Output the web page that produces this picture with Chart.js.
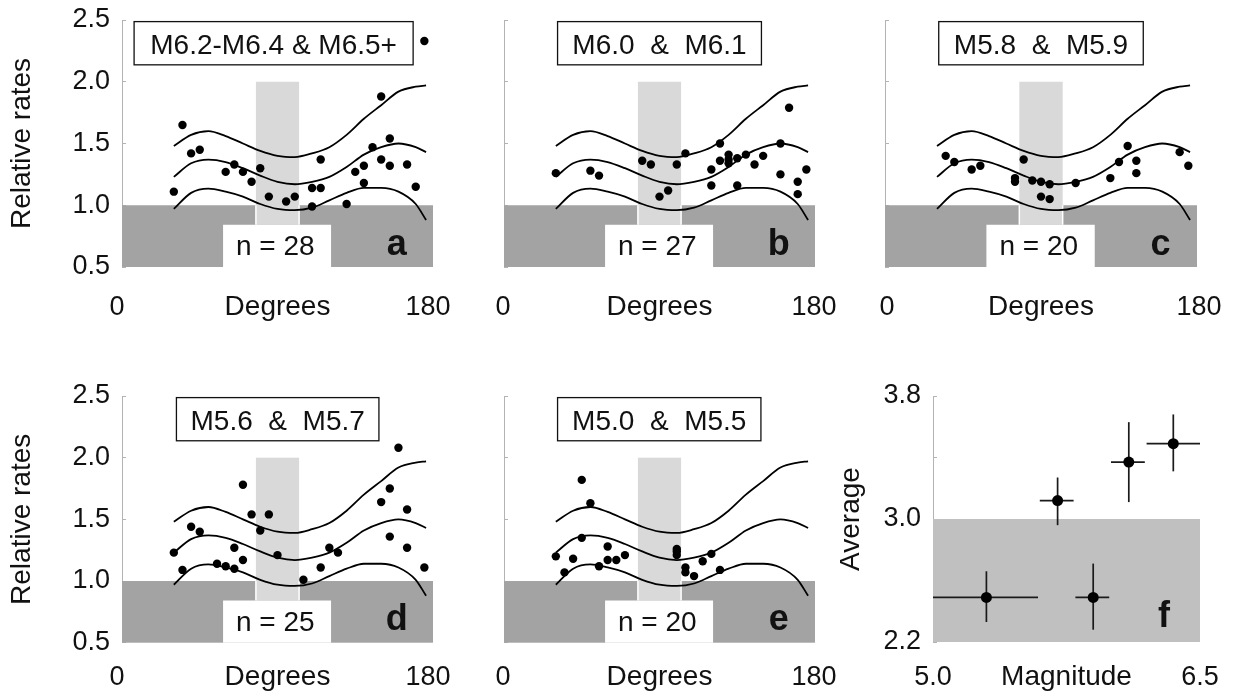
<!DOCTYPE html>
<html>
<head>
<meta charset="utf-8">
<script src="https://cdn.jsdelivr.net/npm/chart.js@4.4.1/dist/chart.umd.min.js"></script>
<style>
  body { margin: 0; background: #fff; width: 1238px; height: 696px; position: relative; overflow: hidden; }
  canvas { position: absolute; }
</style>
</head>
<body>
<canvas id="panelA" width="460" height="340" style="left:0;top:0"></canvas>
<canvas id="panelB" width="380" height="340" style="left:460px;top:0"></canvas>
<canvas id="panelC" width="398" height="340" style="left:840px;top:0"></canvas>
<canvas id="panelD" width="460" height="326" style="left:0;top:370px"></canvas>
<canvas id="panelE" width="380" height="326" style="left:460px;top:370px"></canvas>
<canvas id="panelF" width="418" height="326" style="left:820px;top:370px"></canvas>
<script>
// fitted curves, same in panels a-e
const curveDeg    = [30, 40, 50, 60, 70, 80, 90, 100, 110, 120, 130, 140, 150, 160, 170, 176];
const curveUpper  = [1.48, 1.57, 1.60, 1.56, 1.50, 1.44, 1.40, 1.39, 1.42, 1.47, 1.57, 1.70, 1.81, 1.92, 1.96, 1.97];
const curveMiddle = [1.23, 1.34, 1.37, 1.35, 1.30, 1.24, 1.19, 1.17, 1.19, 1.23, 1.31, 1.41, 1.47, 1.50, 1.47, 1.43];
const curveLower  = [0.97, 1.10, 1.135, 1.11, 1.07, 1.01, 0.97, 0.96, 0.98, 1.04, 1.10, 1.14, 1.14, 1.11, 1.01, 0.88];

// observed rates per magnitude group
const degA  = [30, 35, 40, 45, 60, 65, 70, 75, 80, 85, 95, 100, 110, 110, 115, 115, 130, 135, 140, 140, 145, 150, 150, 155, 155, 165, 170, 175];
const rateA = [1.11, 1.65, 1.42, 1.45, 1.27, 1.33, 1.27, 1.19, 1.30, 1.07, 1.03, 1.07, 1.14, 0.99, 1.14, 1.37, 1.01, 1.27, 1.32, 1.18, 1.47, 1.88, 1.37, 1.54, 1.32, 1.33, 1.15, 2.33];

const degB  = [30, 50, 55, 80, 85, 90, 95, 100, 105, 120, 120, 125, 125, 130, 130, 130, 135, 135, 140, 145, 150, 160, 160, 165, 170, 170, 175];
const rateB = [1.26, 1.28, 1.24, 1.36, 1.33, 1.07, 1.12, 1.33, 1.42, 1.29, 1.16, 1.50, 1.36, 1.41, 1.34, 1.37, 1.16, 1.38, 1.41, 1.33, 1.40, 1.50, 1.25, 1.79, 1.19, 1.09, 1.29];

const degC  = [35, 40, 50, 55, 75, 75, 80, 85, 90, 95, 90, 95, 110, 130, 135, 140, 145, 145, 170, 175];
const rateC = [1.40, 1.35, 1.29, 1.32, 1.22, 1.19, 1.37, 1.20, 1.19, 1.17, 1.07, 1.05, 1.18, 1.22, 1.35, 1.48, 1.36, 1.26, 1.43, 1.32];

const degD  = [30, 35, 40, 45, 55, 60, 65, 65, 70, 70, 75, 80, 85, 90, 105, 115, 120, 125, 150, 155, 155, 160, 165, 165, 175];
const rateD = [1.23, 1.09, 1.44, 1.40, 1.14, 1.12, 1.10, 1.27, 1.17, 1.78, 1.54, 1.41, 1.54, 1.21, 1.01, 1.11, 1.27, 1.23, 1.64, 1.75, 1.36, 2.08, 1.58, 1.27, 1.11];

const degE  = [30, 35, 40, 45, 50, 45, 55, 60, 60, 65, 70, 100, 100, 100, 105, 105, 110, 115, 120, 125];
const rateE = [1.20, 1.07, 1.18, 1.82, 1.63, 1.35, 1.12, 1.28, 1.17, 1.17, 1.21, 1.26, 1.24, 1.21, 1.11, 1.07, 1.04, 1.16, 1.22, 1.09];

// panel f: averages by magnitude
const magCenter = [5.30, 5.70, 5.90, 6.10, 6.35];
const magLow    = [5.00, 5.60, 5.80, 6.00, 6.20];
const magHigh   = [5.59, 5.79, 5.99, 6.19, 6.50];
const avgValue  = [2.49, 3.12, 2.49, 3.37, 3.49];
const avgLow    = [2.33, 2.96, 2.28, 3.11, 3.31];
const avgHigh   = [2.66, 3.27, 2.71, 3.63, 3.68];

// ticks
const rateTicks = [0.5, 1.0, 1.5, 2.0, 2.5];
const degTicks  = [0, 180];
const avgTicks  = [2.2, 2.4, 2.6, 2.8, 3.0, 3.2, 3.4, 3.6, 3.8];
const avgLabelled = [2.2, 3.0, 3.8];
const magTicks  = [5.0, 6.5];

const FONT = "'Liberation Sans', Arial, sans-serif";
const INK = '#111';
Chart.defaults.font.family = FONT;
Chart.defaults.color = INK;

// shaded regions, boxes and letters drawn in data units
function decorPlugin(decor) {
  return {
    id: 'decor',
    beforeDatasetsDraw(chart) {
      const ctx = chart.ctx, x = chart.scales.x, y = chart.scales.y;
      ctx.save();
      decor.rects.forEach(r => {
        const x0 = x.getPixelForValue(r.x0), x1 = x.getPixelForValue(r.x1);
        const y0 = y.getPixelForValue(r.y0), y1 = y.getPixelForValue(r.y1);
        ctx.fillStyle = r.color;
        ctx.fillRect(x0, y1, x1 - x0, y0 - y1);
        if (r.edgeTo) {
          // thin white seams where the light bar meets the dark band
          const ye = y.getPixelForValue(r.edgeTo);
          ctx.strokeStyle = '#fff';
          ctx.lineWidth = 1.5;
          ctx.beginPath();
          ctx.moveTo(x0, y0); ctx.lineTo(x0, ye);
          ctx.moveTo(x1, y0); ctx.lineTo(x1, ye);
          ctx.stroke();
        }
      });
      if (decor.box) {
        const b = decor.box;
        const x0 = x.getPixelForValue(b.x0), x1 = x.getPixelForValue(b.x1);
        const y0 = y.getPixelForValue(b.y0), y1 = y.getPixelForValue(b.y1);
        ctx.fillStyle = '#fff';
        ctx.fillRect(x0, y1, x1 - x0, y0 - y1);
        ctx.strokeStyle = INK;
        ctx.lineWidth = 1.3;
        ctx.strokeRect(x0, y1, x1 - x0, y0 - y1);
        ctx.fillStyle = INK;
        ctx.font = '28px ' + FONT;
        ctx.textAlign = 'center';
        ctx.textBaseline = 'alphabetic';
        ctx.fillText(b.text, (x0 + x1) / 2, y.getPixelForValue(b.textY));
      }
      decor.texts.forEach(t => {
        ctx.fillStyle = INK;
        ctx.font = t.font;
        ctx.textAlign = 'center';
        ctx.textBaseline = 'alphabetic';
        ctx.fillText(t.text, x.getPixelForValue(t.x), y.getPixelForValue(t.y));
      });
      ctx.restore();
    }
  };
}

function toPoints(xs, ys) {
  return xs.map((v, i) => ({ x: v, y: ys[i] }));
}

function curveSet(vals) {
  return {
    data: toPoints(curveDeg, vals),
    showLine: true, pointRadius: 0, pointHoverRadius: 0,
    borderColor: '#000', borderWidth: 1.8,
    cubicInterpolationMode: 'monotone', fill: false
  };
}

// keep the chart area exactly where the layout padding puts it
function fixWidth(w) {
  return s => { s.width = w; s.paddingTop = 0; s.paddingBottom = 0; };
}
function fixHeight(h) {
  return s => { s.height = h; s.paddingLeft = 0; s.paddingRight = 0; };
}

function ratePanel(id, degs, rates, p) {
  new Chart(document.getElementById(id), {
    type: 'scatter',
    data: {
      datasets: [
        { data: toPoints(degs, rates), pointRadius: 4.2, pointHoverRadius: 4.2,
          backgroundColor: '#000', borderColor: '#000', borderWidth: 0 },
        curveSet(curveUpper),
        curveSet(curveMiddle),
        curveSet(curveLower)
      ]
    },
    options: {
      responsive: false,
      animation: false,
      layout: { padding: { left: 0, top: p.padTop, right: p.padRight, bottom: 0 } },
      plugins: { legend: { display: false }, tooltip: { enabled: false } },
      scales: {
        x: {
          min: 0, max: 180,
          afterBuildTicks: s => { s.ticks = degTicks.map(v => ({ value: v })); },
          afterFit: fixHeight(p.xHeight),
          border: { display: false },
          grid: { display: false, drawTicks: false },
          ticks: { padding: p.tickPad, labelOffset: p.labelOffset, maxRotation: 0, autoSkip: false,
                   font: { size: 27 } },
          title: { display: true, text: 'Degrees', font: { size: 28 },
                   padding: { top: 0, bottom: p.titlePad } }
        },
        y: {
          min: 0.5, max: 2.5,
          afterBuildTicks: s => { s.ticks = rateTicks.map(v => ({ value: v })); },
          afterFit: fixWidth(p.yWidth),
          border: { display: true, color: '#b3b3b3', width: 1 },
          grid: { drawOnChartArea: false, drawTicks: true, tickLength: -4, color: '#b3b3b3' },
          ticks: { padding: 16, font: { size: 27 },
                   callback: v => p.showY ? v.toFixed(1) : '' },
          title: { display: p.showY, text: 'Relative rates', font: { size: 28 },
                   padding: { top: 5, bottom: 0 } }
        }
      }
    },
    plugins: [decorPlugin({
      rects: [
        { x0: 0, x1: 180, y0: 0.5, y1: 1.0, color: '#a3a3a3' },
        { x0: 77.5, x1: 102.5, y0: 0.842, y1: 2.0, color: '#d9d9d9', edgeTo: 1.0 },
        { x0: 58.5, x1: 121, y0: 0.5, y1: 0.842, color: '#ffffff' }
      ],
      box: { x0: p.boxX[0], x1: p.boxX[1], y0: 2.137, y1: 2.487, text: p.label, textY: 2.222 },
      texts: [
        { text: p.count, x: 88.7, y: 0.595, font: '28px ' + FONT },
        { text: p.letter, x: 159, y: 0.6, font: 'bold 36px ' + FONT }
      ]
    })]
  });
}

ratePanel('panelA', degA, rateA, {
  label: 'M6.2-M6.4 & M6.5+', count: 'n = 28', letter: 'a', boxX: [7, 168.5],
  showY: true, yWidth: 122, padRight: 27, padTop: 20, xHeight: 73,
  tickPad: 24, titlePad: 15.5, labelOffset: -5
});
ratePanel('panelB', degB, rateB, {
  label: 'M6.0  &  M6.1', count: 'n = 27', letter: 'b', boxX: [31, 149],
  showY: false, yWidth: 44, padRight: 25, padTop: 20, xHeight: 73,
  tickPad: 24, titlePad: 15.5, labelOffset: -1
});
ratePanel('panelC', degC, rateC, {
  label: 'M5.8  &  M5.9', count: 'n = 20', letter: 'c', boxX: [31, 149],
  showY: false, yWidth: 45, padRight: 41, padTop: 20, xHeight: 73,
  tickPad: 24, titlePad: 15.5, labelOffset: 2
});
ratePanel('panelD', degD, rateD, {
  label: 'M5.6  &  M5.7', count: 'n = 25', letter: 'd', boxX: [31.5, 148.7],
  showY: true, yWidth: 122, padRight: 27, padTop: 26, xHeight: 53.3,
  tickPad: 18.5, titlePad: 1.5, labelOffset: -5
});
ratePanel('panelE', degE, rateE, {
  label: 'M5.0  &  M5.5', count: 'n = 20', letter: 'e', boxX: [31, 148.7],
  showY: false, yWidth: 44, padRight: 25, padTop: 26, xHeight: 53.3,
  tickPad: 18.5, titlePad: 1.5, labelOffset: -1
});

// panel f: averages with error bars
const errorBars = [];
magCenter.forEach((m, i) => {
  errorBars.push({ data: [{ x: magLow[i], y: avgValue[i] }, { x: magHigh[i], y: avgValue[i] }] });
  errorBars.push({ data: [{ x: m, y: avgLow[i] }, { x: m, y: avgHigh[i] }] });
});

new Chart(document.getElementById('panelF'), {
  type: 'scatter',
  data: {
    datasets: [
      { data: toPoints(magCenter, avgValue), pointRadius: 5.5, pointHoverRadius: 5.5,
        backgroundColor: '#000', borderColor: '#000', borderWidth: 0 }
    ].concat(errorBars.map(e => Object.assign(e, {
      showLine: true, pointRadius: 0, pointHoverRadius: 0,
      borderColor: '#1a1a1a', borderWidth: 1.7, fill: false
    })))
  },
  options: {
    responsive: false,
    animation: false,
    layout: { padding: { left: 0, top: 26, right: 38, bottom: 0 } },
    plugins: { legend: { display: false }, tooltip: { enabled: false } },
    scales: {
      x: {
        min: 5.0, max: 6.5,
        afterBuildTicks: s => { s.ticks = magTicks.map(v => ({ value: v })); },
        afterFit: fixHeight(54),
        border: { display: false },
        grid: { display: false, drawTicks: false },
        ticks: { padding: 19, maxRotation: 0, autoSkip: false, font: { size: 27 },
                 callback: v => v.toFixed(1) },
        title: { display: true, text: 'Magnitude', font: { size: 28 },
                 padding: { top: 0, bottom: 1.5 } }
      },
      y: {
        min: 2.2, max: 3.8,
        afterBuildTicks: s => { s.ticks = avgTicks.map(v => ({ value: v })); },
        afterFit: fixWidth(113),
        border: { display: true, color: '#b3b3b3', width: 1 },
        grid: { drawOnChartArea: false, drawTicks: true, tickLength: -4, color: '#b3b3b3' },
        ticks: { padding: 16, font: { size: 27 },
                 callback: v => avgLabelled.some(a => Math.abs(a - v) < 1e-6) ? v.toFixed(1) : '' },
        title: { display: true, text: 'Average', font: { size: 28 },
                 padding: { top: 14, bottom: 0 } }
      }
    }
  },
  plugins: [decorPlugin({
    rects: [{ x0: 5.0, x1: 6.5, y0: 2.2, y1: 3.0, color: '#c0c0c0' }],
    texts: [{ text: 'f', x: 6.298, y: 2.298, font: 'bold 36px ' + FONT }]
  })]
});
</script>
</body>
</html>
